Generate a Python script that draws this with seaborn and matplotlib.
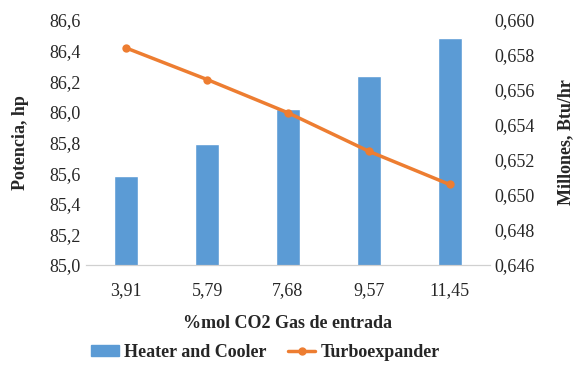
import matplotlib.pyplot as plt
import matplotlib.lines as mlines
import matplotlib.patches as mpatches
import numpy as np
import pandas as pd
import seaborn as sns

# values
co2 = ["3,91", "5,79", "7,68", "9,57", "11,45"]
heater_cooler = [85.58, 85.79, 86.02, 86.235, 86.485]
turboexpander = [0.6584, 0.6566, 0.6547, 0.6525, 0.6506]

left_ticks = [85.0, 85.2, 85.4, 85.6, 85.8, 86.0, 86.2, 86.4, 86.6]
right_ticks = [0.646, 0.648, 0.650, 0.652, 0.654, 0.656, 0.658, 0.660]

BLUE = "#5B9BD5"
ORANGE = "#ED7D31"


def comma(v, nd):
    return f"{v:.{nd}f}".replace(".", ",")


def main():
    sns.set_style("white")
    plt.rcParams["font.family"] = ["Liberation Serif", "DejaVu Serif"]
    plt.rcParams["font.size"] = 13

    df = pd.DataFrame({"co2": co2, "hc": heater_cooler, "tx": turboexpander})

    fig = plt.figure(figsize=(5.8, 3.78), dpi=100)
    ax = fig.add_axes([0.148, 0.299, 0.697, 0.648])

    sns.barplot(data=df, x="co2", y="hc", color=BLUE, width=0.3,
                saturation=1, ax=ax)
    ax.set_ylim(85.0, 86.6)
    ax.set_yticks(left_ticks)
    ax.set_yticklabels([comma(v, 1) for v in left_ticks])
    ax.set_xlim(-0.5, 4.5)

    ax2 = ax.twinx()
    sns.lineplot(x=np.arange(len(co2)), y=df["tx"], color=ORANGE,
                 linewidth=2.5, marker="o", markersize=6,
                 markeredgewidth=0, ax=ax2)
    ax2.set_ylim(0.646, 0.660)
    ax2.set_yticks(right_ticks)
    ax2.set_yticklabels([comma(v, 3) for v in right_ticks])
    ax2.set_xlim(-0.5, 4.5)

    for a in (ax, ax2):
        for s in ("top", "left", "right"):
            a.spines[s].set_visible(False)
        a.spines["bottom"].set_color("#d0d0d0")
        a.tick_params(axis="y", length=0, pad=4, labelsize=13)
    ax2.tick_params(axis="y", pad=3)

    # Excel style category ticks between bars
    ax.set_xticks(np.arange(-0.5, 5.0, 1.0), minor=True)
    ax.tick_params(axis="x", which="major", length=0, pad=12, labelsize=13)
    ax.tick_params(axis="x", which="minor", length=5, color="#d0d0d0",
                   direction="out")

    ax.set_xlabel("%mol CO2 Gas de entrada", fontweight="bold", labelpad=12)
    ax.set_ylabel("Potencia, hp", fontweight="bold", labelpad=14)
    ax2.set_ylabel("Millones, Btu/hr", fontweight="bold", labelpad=16)

    handles = [
        mpatches.Patch(color=BLUE, label="Heater and Cooler"),
        mlines.Line2D([], [], color=ORANGE, linewidth=2.5, marker="o",
                      markersize=5, label="Turboexpander"),
    ]
    fig.legend(handles=handles, loc="center", bbox_to_anchor=(0.458, 0.068),
               ncol=2, frameon=False, handlelength=1.5, handleheight=0.5,
               columnspacing=1.2, handletextpad=0.3,
               prop={"weight": "bold", "size": 13})

    fig.savefig("out.png", dpi=100)
    plt.close(fig)


if __name__ == "__main__":
    main()
